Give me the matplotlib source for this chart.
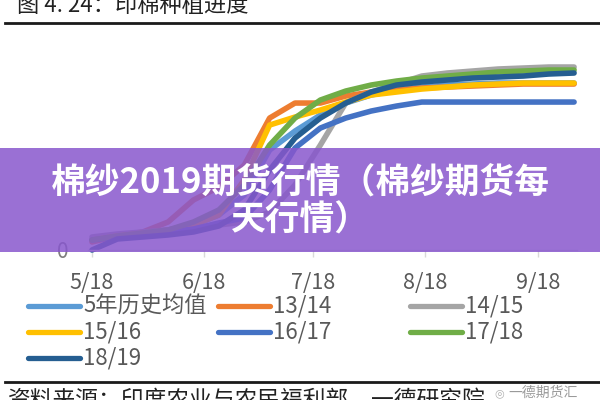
import matplotlib
matplotlib.use("Agg")
import matplotlib.pyplot as plt
from matplotlib.lines import Line2D
from matplotlib.patches import Rectangle

plt.rcParams['font.family'] = ['Noto Sans CJK SC', 'DejaVu Sans']

# ---- data (days since 5/18, weekly; planted area, lakh ha) ----
days = [0, 7, 14, 21, 28, 35, 42, 49, 56, 63, 70, 77, 84, 91, 98, 105, 112, 119, 126, 133]
tick_days = [0, 31, 61, 92, 123]
tick_labels = ['5/18', '6/18', '7/18', '8/18', '9/18']

series_names = ['5年历史均值', '13/14', '14/15', '15/16', '16/17', '17/18', '18/19']
avg5 = [7.0, 9.8, 11.9, 14.0, 17.5, 24.5, 38.5, 69.9, 83.2, 94.4, 102.8, 108.4, 111.9, 114.0, 115.4, 116.1, 116.8, 116.8, 116.8, 116.8]
s1314 = [5.6, 9.8, 12.6, 19.6, 35.0, 44.0, 59.4, 92.3, 102.8, 102.8, 107.7, 110.5, 111.9, 113.3, 114.0, 114.7, 115.4, 116.1, 116.1, 116.1]
s1415 = [9.1, 11.2, 12.6, 14.0, 15.4, 17.5, 19.6, 26.6, 45.5, 73.4, 102.8, 110.5, 116.1, 121.7, 123.8, 125.2, 126.6, 127.3, 128.0, 128.0]
s1516 = [7.0, 9.8, 11.9, 14.0, 17.5, 24.5, 49.0, 87.4, 93.0, 97.9, 103.5, 108.4, 110.5, 112.6, 114.0, 115.4, 116.1, 116.8, 116.8, 116.8]
s1617 = [7.0, 9.1, 11.2, 12.6, 14.7, 18.9, 22.4, 42.0, 71.3, 85.3, 92.3, 97.2, 100.7, 103.5, 103.5, 103.5, 103.5, 103.5, 103.5, 103.5]
s1718 = [7.0, 9.8, 11.9, 14.0, 19.6, 28.0, 45.5, 73.4, 92.3, 104.9, 111.2, 115.4, 118.2, 120.3, 121.7, 123.1, 124.5, 125.2, 125.9, 125.9]
s1819 = [0.0, 7.7, 9.1, 10.5, 12.6, 16.8, 28.0, 55.9, 78.3, 92.3, 102.8, 110.5, 115.4, 117.5, 118.9, 120.3, 121.0, 121.7, 123.1, 123.8]
series_values = [avg5, s1314, s1415, s1516, s1617, s1718, s1819]
colors = ['#5B9BD5', '#ED7D31', '#A5A5A5', '#FFC000', '#4472C4', '#70AD47', '#255E91']

title_text = '图 4. 24：印棉种植进度'
banner_line1 = '棉纱2019期货行情（棉纱期货每'
banner_line2 = '天行情）'
source_text = '资料来源：印度农业与农民福利部，一德研究院'
watermark_text = '一德期货汇'

W, H = 600, 400
fig = plt.figure(figsize=(6, 4), dpi=100)

def fx(px):
    return px / W

def fy(py):
    return 1 - py / H

ax = fig.add_axes([fx(88), fy(250), fx(577) - fx(88), fy(40) - fy(250)])
for vals, c in zip(series_values, colors):
    ax.plot(days, vals, color=c, lw=4.0, solid_capstyle='round',
            solid_joinstyle='round', clip_on=False)

ax.set_xlim(-1.1, 133.8)
ax.set_ylim(0, 146.9)
for s in ['top', 'right', 'left']:
    ax.spines[s].set_visible(False)
ax.spines['bottom'].set_color('#d9d9d9')
ax.spines['bottom'].set_linewidth(1.0)
ax.set_xticks(tick_days)
ax.set_xticklabels(tick_labels)
ax.tick_params(axis='x', colors='#d9d9d9', length=5, width=1, pad=10.5,
               labelsize=15.5, labelcolor='#595959')
ax.set_yticks([0])
ax.set_yticklabels(['0'])
ax.tick_params(axis='y', length=0, pad=14, labelsize=15, labelcolor='#7f7f7f')

# top and bottom rules
fig.add_artist(Line2D([fx(5), fx(600)], [fy(23), fy(23)], color='#1a1a1a', lw=2.0))
fig.add_artist(Line2D([fx(5), fx(600)], [fy(382), fy(382)], color='#1a1a1a', lw=2.0))

fig.text(fx(17), fy(5.5), title_text, fontsize=16, color='#222222', ha='left', va='center')

# legend (row-major, 3 columns)
col_x = [28, 218, 410]
row_y = [306, 332, 358]
for i, (name, c) in enumerate(zip(series_names, colors)):
    r, k = divmod(i, 3)
    x0 = col_x[k]
    y0 = row_y[r]
    fig.add_artist(Line2D([fx(x0), fx(x0 + 52)], [fy(y0), fy(y0)], color=c, lw=3.8,
                          solid_capstyle='round'))
    fig.text(fx(x0 + 55), fy(y0), name, fontsize=16, color='#595959',
             ha='left', va='center')

fig.text(fx(8), fy(401), source_text, fontsize=16.4, color='#222222', ha='left', va='center')
fig.text(fx(494), fy(393), '◎', fontsize=8, color='#b0b0b0', ha='left', va='center',
         family=['DejaVu Sans'])
fig.text(fx(508), fy(393), watermark_text, fontsize=10, color='#9a9a9a', ha='left', va='center')

# overlay banner
fig.add_artist(Rectangle((0, fy(252)), 1, fy(148) - fy(252), transform=fig.transFigure,
                         facecolor='#8857cd', alpha=0.85, edgecolor='none', zorder=10))
fig.text(0.5, fy(182), banner_line1, fontsize=25, fontweight='heavy', color='white',
         ha='center', va='center', zorder=11)
fig.text(0.5, fy(220), banner_line2, fontsize=25, fontweight='heavy', color='white',
         ha='center', va='center', zorder=11)

fig.savefig('out.png', dpi=100)
